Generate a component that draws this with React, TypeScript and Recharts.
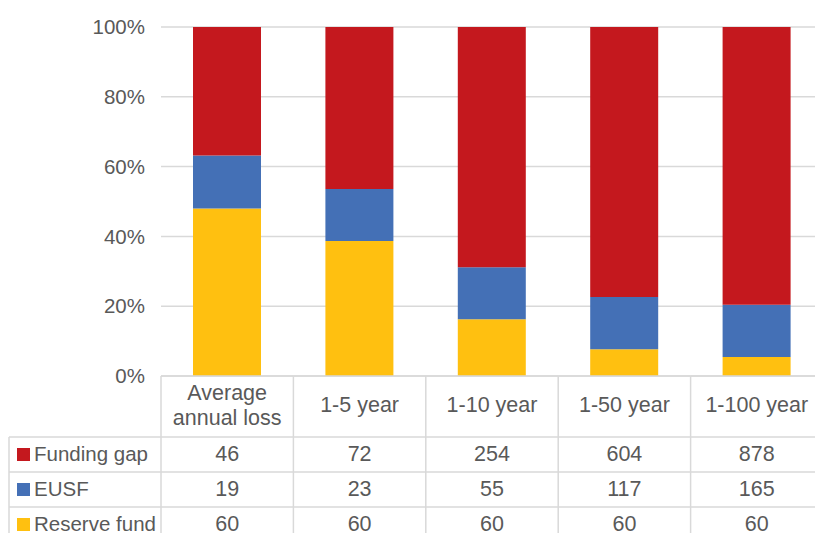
import React from "react";
import { BarChart, Bar, XAxis, YAxis, CartesianGrid } from "recharts";

const categories = ["Average annual loss", "1-5 year", "1-10 year", "1-50 year", "1-100 year"];
const fundingGap = [46, 72, 254, 604, 878];
const eusf = [19, 23, 55, 117, 165];
const reserveFund = [60, 60, 60, 60, 60];
const yTicks = [0, 0.2, 0.4, 0.6, 0.8, 1];

const series = [
    { key: "gap", name: "Funding gap", color: "#C4181E", values: fundingGap },
    { key: "eusf", name: "EUSF", color: "#4470B6", values: eusf },
    { key: "reserve", name: "Reserve fund", color: "#FFC010", values: reserveFund },
];

const data = categories.map((c, i) => ({
    name: c,
    gap: fundingGap[i],
    eusf: eusf[i],
    reserve: reserveFund[i],
}));

const FONT = "'Liberation Sans', Arial, sans-serif";
const TEXT = "#595959";
const LINE = "#d9d9d9";
const TABLE_FS = 21.5;

const CHART_W = 830;
const CHART_H = 533;
const MARGIN = { top: 27, right: 7, left: 0, bottom: 0 };
const Y_W = 161;
const X_H = 157;
const COL_W = (CHART_W - MARGIN.left - MARGIN.right - Y_W) / categories.length;
const ROW_TOP = 61; // table rows start below the category header
const ROW_H = 35;
const LABEL_LEFT = 9;

function wrap(label: string): string[] {
    if (label.length <= 11) return [label];
    const i = label.indexOf(" ");
    return [label.slice(0, i), label.slice(i + 1)];
}

function TableTick(props: any) {
    const { x, y, payload, index } = props;
    const left = x - COL_W / 2;
    const right = x + COL_W / 2;
    const bottom = y + X_H + 10;
    const lines = wrap(payload.value);
    const plotLeft = MARGIN.left + Y_W;

    return (
        <g>
            {/* column borders */}
            {index === 0 && <line x1={left} x2={left} y1={y} y2={bottom} stroke={LINE} strokeWidth={1.5} />}
            <line x1={right} x2={right} y1={y} y2={bottom} stroke={LINE} strokeWidth={1.5} />
            <line x1={left} x2={right} y1={y} y2={y} stroke={LINE} strokeWidth={1.5} />
            {series.map((s, r) => (
                <line key={s.key} x1={left} x2={right} y1={y + ROW_TOP + r * ROW_H} y2={y + ROW_TOP + r * ROW_H} stroke={LINE} strokeWidth={1.5} />
            ))}

            {/* category header */}
            {lines.map((t, k) => (
                <text
                    key={k}
                    x={x}
                    y={y + 29 + (k - (lines.length - 1) / 2) * 25}
                    textAnchor="middle"
                    dominantBaseline="central"
                    fill={TEXT}
                    fontSize={TABLE_FS}
                    fontFamily={FONT}
                >
                    {t}
                </text>
            ))}

            {/* values */}
            {series.map((s, r) => (
                <text
                    key={s.key}
                    x={x}
                    y={y + ROW_TOP + r * ROW_H + ROW_H / 2 - 1}
                    textAnchor="middle"
                    dominantBaseline="central"
                    fill={TEXT}
                    fontSize={TABLE_FS}
                    fontFamily={FONT}
                >
                    {s.values[index]}
                </text>
            ))}

            {/* row header column with legend keys */}
            {index === 0 && (
                <g>
                    <line x1={LABEL_LEFT} x2={LABEL_LEFT} y1={y + ROW_TOP} y2={bottom} stroke={LINE} strokeWidth={1.5} />
                    {series.map((s, r) => {
                        const top = y + ROW_TOP + r * ROW_H;
                        return (
                            <g key={s.key}>
                                <line x1={LABEL_LEFT} x2={plotLeft} y1={top} y2={top} stroke={LINE} strokeWidth={1.5} />
                                <rect x={17} y={top + ROW_H / 2 - 6.5} width={13} height={13} fill={s.color} />
                                <text
                                    x={34}
                                    y={top + ROW_H / 2 - 1}
                                    dominantBaseline="central"
                                    fill={TEXT}
                                    fontSize={20.5}
                                    fontFamily={FONT}
                                >
                                    {s.name}
                                </text>
                            </g>
                        );
                    })}
                </g>
            )}
        </g>
    );
}

export default function App() {
    return (
        <div style={{ position: "fixed", top: 0, left: 0, width: 815, height: 533, overflow: "hidden", background: "#fff" }}>
            <BarChart width={CHART_W} height={CHART_H} data={data} margin={MARGIN} stackOffset="expand" barSize={68}>
                <CartesianGrid vertical={false} stroke={LINE} strokeWidth={1.5} />
                <YAxis
                    width={Y_W}
                    domain={[0, 1]}
                    ticks={yTicks}
                    tickFormatter={(v: number) => `${Math.round(v * 100)}%`}
                    tick={{ fill: TEXT, fontSize: 20.5, fontFamily: FONT }}
                    axisLine={false}
                    tickLine={false}
                    tickMargin={10}
                />
                <XAxis
                    dataKey="name"
                    height={X_H}
                    interval={0}
                    axisLine={false}
                    tickLine={false}
                    tickSize={0}
                    tickMargin={0}
                    tick={<TableTick />}
                />
                <Bar dataKey="reserve" stackId="a" fill="#FFC010" isAnimationActive={false} />
                <Bar dataKey="eusf" stackId="a" fill="#4470B6" isAnimationActive={false} />
                <Bar dataKey="gap" stackId="a" fill="#C4181E" isAnimationActive={false} />
            </BarChart>
        </div>
    );
}
